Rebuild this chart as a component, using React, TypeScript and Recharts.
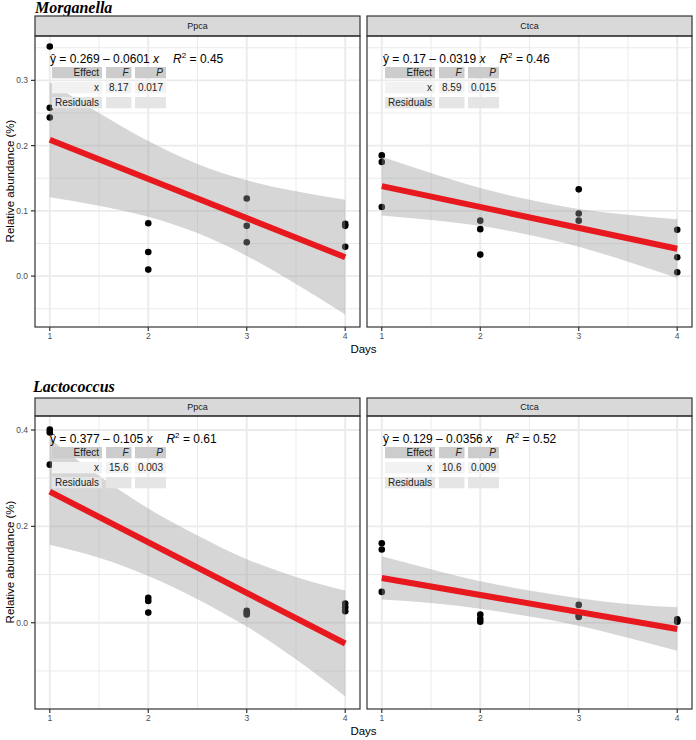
import React from 'react';
import { ComposedChart, XAxis, YAxis, Scatter, Line, Area, ReferenceLine } from 'recharts';

const FONT = '"Liberation Sans", Arial, Helvetica, sans-serif';

// ---- categories ----
const taxa = ['Morganella', 'Lactococcus'];
const groups = ['Ppca', 'Ctca'];

// ---- observed points (3 replicates per day) ----
const pointDays = [1, 1, 1, 2, 2, 2, 3, 3, 3, 4, 4, 4];
const morganellaPpcaValues = [0.352, 0.258, 0.243, 0.081, 0.037, 0.010, 0.119, 0.077, 0.052, 0.080, 0.077, 0.045];
const morganellaCtcaValues = [0.185, 0.175, 0.106, 0.085, 0.072, 0.033, 0.133, 0.096, 0.085, 0.071, 0.029, 0.006];
const lactococcusPpcaValues = [0.401, 0.395, 0.328, 0.052, 0.045, 0.021, 0.025, 0.021, 0.017, 0.040, 0.032, 0.024];
const lactococcusCtcaValues = [0.165, 0.152, 0.064, 0.017, 0.008, 0.002, 0.037, 0.015, 0.012, 0.007, 0.004, 0.002];

// ---- fitted regression line (end points) ----
const fitDays = [1, 4];
const morganellaPpcaFit = [0.209, 0.029];
const morganellaCtcaFit = [0.138, 0.042];
const lactococcusPpcaFit = [0.272, -0.043];
const lactococcusCtcaFit = [0.093, -0.013];

// ---- confidence band ----
const bandDays = [1, 1.5, 2, 2.5, 3, 3.5, 4];
const morganellaPpcaLower = [0.121, 0.108, 0.091, 0.066, 0.031, -0.012, -0.059];
const morganellaPpcaUpper = [0.297, 0.250, 0.207, 0.172, 0.147, 0.130, 0.117];
const morganellaCtcaLower = [0.093, 0.086, 0.077, 0.063, 0.045, 0.022, -0.003];
const morganellaCtcaUpper = [0.183, 0.158, 0.135, 0.117, 0.103, 0.094, 0.087];
const lactococcusPpcaLower = [0.162, 0.135, 0.097, 0.049, -0.008, -0.076, -0.153];
const lactococcusPpcaUpper = [0.382, 0.305, 0.237, 0.181, 0.132, 0.095, 0.067];
const lactococcusCtcaLower = [0.048, 0.041, 0.029, 0.013, -0.006, -0.031, -0.058];
const lactococcusCtcaUpper = [0.138, 0.111, 0.086, 0.067, 0.051, 0.039, 0.032];

// ---- ticks ----
const xTicks = [1, 2, 3, 4];
const xMinor = [1.5, 2.5, 3.5];
const xDomain = [0.85, 4.15];
const morganellaYTicks = [0, 0.1, 0.2, 0.3];
const morganellaYMinor = [-0.05, 0.05, 0.15, 0.25, 0.35];
const morganellaYDomain = [-0.078, 0.368];
const lactococcusYTicks = [0, 0.2, 0.4];
const lactococcusYMinor = [-0.1, 0.1, 0.3];
const lactococcusYDomain = [-0.179, 0.429];

// ---- annotation texts ----
const eqIntercepts = ['0.269', '0.17', '0.377', '0.129'];
const eqSlopes = ['0.0601', '0.0319', '0.105', '0.0356'];
const eqR2 = ['0.45', '0.46', '0.61', '0.52'];
const tableF = ['8.17', '8.59', '15.6', '10.6'];
const tableP = ['0.017', '0.015', '0.003', '0.009'];

const RED = '#E8191E';
const GRID = '#EBEBEB';
const DARK = '#333333';

type PanelProps = {
  left: number; top: number; width: number; height: number; showY: boolean;
  yDomain: number[]; yTicks: number[]; yMinor: number[];
  values: number[]; fit: number[]; lower: number[]; upper: number[];
};

const Dot = (props: any) => <circle cx={props.cx} cy={props.cy} r={3.3} fill="#000" />;

function Panel(p: PanelProps) {
  const pts = pointDays.map((d, i) => ({ day: d, value: p.values[i] }));
  const band = bandDays.map((d, i) => ({ day: d, band: [p.lower[i], p.upper[i]] }));
  const line = fitDays.map((d, i) => ({ day: d, fit: p.fit[i] }));
  const yW = p.showY ? 35 : 0;
  const W = p.width + yW;
  const H = p.height + 20;
  return (
    <div style={{ position: 'absolute', left: p.left, top: p.top, width: W, height: H }}>
      {/* layer 1: axes, grid, points */}
      <div style={{ position: 'absolute', left: 0, top: 0 }}>
        <ComposedChart width={W} height={H} margin={{ top: 0, right: 0, bottom: 0, left: 0 }}>
          <XAxis type="number" dataKey="day" domain={xDomain} ticks={xTicks} allowDataOverflow interval={0}
            axisLine={false} tickLine={{ stroke: DARK, strokeWidth: 1.2 }} tickSize={4} tickMargin={2} height={20}
            tick={{ fontSize: 8.5, fill: '#4D4D4D' }} />
          <YAxis type="number" domain={p.yDomain} ticks={p.yTicks} allowDataOverflow hide={!p.showY} width={35} interval={0}
            axisLine={false} tickLine={{ stroke: DARK, strokeWidth: 1.2 }} tickSize={4} tickMargin={3}
            tick={{ fontSize: 8.5, fill: '#4D4D4D' }} tickFormatter={(v: number) => v.toFixed(1)} />
          {p.yMinor.map((v) => <ReferenceLine key={'ym' + v} y={v} stroke={GRID} strokeWidth={1} />)}
          {xMinor.map((v) => <ReferenceLine key={'xm' + v} x={v} stroke={GRID} strokeWidth={1} />)}
          {p.yTicks.map((v) => <ReferenceLine key={'yM' + v} y={v} stroke={GRID} strokeWidth={1.9} />)}
          {xTicks.map((v) => <ReferenceLine key={'xM' + v} x={v} stroke={GRID} strokeWidth={1.9} />)}
          <Scatter data={pts} dataKey="value" fill="#000" shape={Dot} isAnimationActive={false} />
        </ComposedChart>
      </div>
      {/* layer 2: confidence band and fitted line drawn over the points */}
      <div style={{ position: 'absolute', left: 0, top: 0 }}>
        <ComposedChart width={W} height={H} margin={{ top: 0, right: 0, bottom: 20, left: yW }}>
          <XAxis type="number" dataKey="day" domain={xDomain} allowDataOverflow hide />
          <YAxis type="number" domain={p.yDomain} allowDataOverflow hide />
          <Area data={band} dataKey="band" type="monotone" fill="#999999" fillOpacity={0.4} stroke="none"
            isAnimationActive={false} activeDot={false} dot={false} />
          <Line data={line} dataKey="fit" type="linear" stroke={RED} strokeWidth={6} dot={false} activeDot={false}
            isAnimationActive={false} />
        </ComposedChart>
      </div>
    </div>
  );
}

function Annotation({ x, y, i }: { x: number; y: number; i: number }) {
  const tx = x + 2;
  const cols = [[0, 50], [54, 79.5], [83, 114]];
  const rowTops = [y + 4, y + 19, y + 34];
  const fills = ['#CCCCCC', '#F2F2F2', '#E5E5E5'];
  const cells = [
    ['Effect', 'F', 'P'],
    ['x', tableF[i], tableP[i]],
    ['Residuals', '', ''],
  ];
  return (
    <g fontFamily={FONT}>
      <text x={x} y={y} fontSize={12} fill="#000">
        {`ŷ = ${eqIntercepts[i]} – ${eqSlopes[i]} `}
        <tspan fontStyle="italic">x</tspan>
        <tspan dx={14} fontStyle="italic">R</tspan>
        <tspan dy={-5} fontSize={8}>2</tspan>
        <tspan dy={5}>{` = ${eqR2[i]}`}</tspan>
      </text>
      {rowTops.map((rt, r) => (
        <g key={r}>
          {cols.map((c, ci) => (
            <g key={ci}>
              <rect x={tx + c[0]} y={rt} width={c[1] - c[0]} height={11.3} fill={fills[r]} />
              <text x={tx + c[1] - 3} y={rt + 8.6} fontSize={10} textAnchor="end" fill="#222"
                fontStyle={r === 0 && ci > 0 ? 'italic' : 'normal'}>{cells[r][ci]}</text>
            </g>
          ))}
        </g>
      ))}
    </g>
  );
}

export default function App() {
  const panelW = 325;
  const serif = '"Liberation Serif", "Times New Roman", serif';
  return (
    <div style={{ position: 'absolute', left: 0, top: 0, width: 696, height: 740, background: '#fff', fontFamily: FONT }}>
      <Panel left={0} top={36} width={panelW} height={291} showY yDomain={morganellaYDomain} yTicks={morganellaYTicks}
        yMinor={morganellaYMinor} values={morganellaPpcaValues} fit={morganellaPpcaFit} lower={morganellaPpcaLower} upper={morganellaPpcaUpper} />
      <Panel left={367} top={36} width={panelW} height={291} showY={false} yDomain={morganellaYDomain} yTicks={morganellaYTicks}
        yMinor={morganellaYMinor} values={morganellaCtcaValues} fit={morganellaCtcaFit} lower={morganellaCtcaLower} upper={morganellaCtcaUpper} />
      <Panel left={0} top={416} width={panelW} height={293} showY yDomain={lactococcusYDomain} yTicks={lactococcusYTicks}
        yMinor={lactococcusYMinor} values={lactococcusPpcaValues} fit={lactococcusPpcaFit} lower={lactococcusPpcaLower} upper={lactococcusPpcaUpper} />
      <Panel left={367} top={416} width={panelW} height={293} showY={false} yDomain={lactococcusYDomain} yTicks={lactococcusYTicks}
        yMinor={lactococcusYMinor} values={lactococcusCtcaValues} fit={lactococcusCtcaFit} lower={lactococcusCtcaLower} upper={lactococcusCtcaUpper} />

      <svg width={696} height={740} style={{ position: 'absolute', left: 0, top: 0, pointerEvents: 'none' }}>
        {/* titles */}
        <text x={35} y={13} fontFamily={serif} fontWeight="bold" fontStyle="italic" fontSize={16}>{taxa[0]}</text>
        <text x={33} y={392} fontFamily={serif} fontWeight="bold" fontStyle="italic" fontSize={16}>{taxa[1]}</text>

        {/* strips and borders */}
        {[[16, 36, 327], [398, 416, 709]].map(([st, pt, pb], r) => (
          <g key={r}>
            {[35, 367].map((lx, c) => (
              <g key={c}>
                <rect x={lx} y={st} width={panelW} height={pt - st} fill="#D9D9D9" stroke={DARK} strokeWidth={1.2} />
                <text x={lx + panelW / 2} y={(st + pt) / 2 + 3.3} fontSize={9} textAnchor="middle" fill="#1A1A1A" fontFamily={FONT}>{groups[c]}</text>
                <rect x={lx} y={pt} width={panelW} height={pb - pt} fill="none" stroke={DARK} strokeWidth={1.2} />
              </g>
            ))}
          </g>
        ))}

        {/* axis titles */}
        <text transform="translate(14,181) rotate(-90)" textAnchor="middle" fontSize={11.5} fontFamily={FONT} fill="#000">Relative abundance (%)</text>
        <text transform="translate(14,562) rotate(-90)" textAnchor="middle" fontSize={11.5} fontFamily={FONT} fill="#000">Relative abundance (%)</text>
        <text x={363.5} y={353} textAnchor="middle" fontSize={11.5} fontFamily={FONT} fill="#000">Days</text>
        <text x={363.5} y={735} textAnchor="middle" fontSize={11.5} fontFamily={FONT} fill="#000">Days</text>

        {/* annotations */}
        <Annotation x={50} y={63} i={0} />
        <Annotation x={383} y={63} i={1} />
        <Annotation x={50} y={443} i={2} />
        <Annotation x={383} y={443} i={3} />
      </svg>
    </div>
  );
}
